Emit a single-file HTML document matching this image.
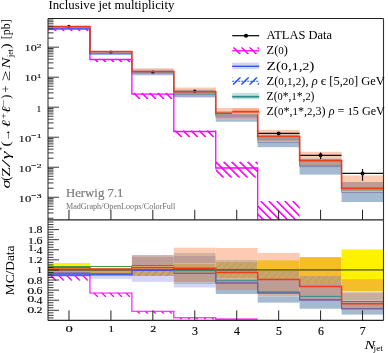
<!DOCTYPE html>
<html><head><meta charset="utf-8"><style>html,body{margin:0;padding:0;background:#fff;}svg{display:block;will-change:transform;}</style></head>
<body><svg width="388" height="353" viewBox="0 0 388 353"><rect width="388" height="353" fill="#fff"/><clipPath id="cu"><rect x="48.0" y="18.5" width="335.5" height="201.3"/></clipPath><clipPath id="cr"><rect x="48.0" y="219.8" width="335.5" height="100.59999999999997"/></clipPath><g clip-path="url(#cu)"><rect x="131.88" y="68.20" width="41.94" height="1.30" fill="#e6cfc4"/><rect x="131.88" y="69.50" width="41.94" height="1.00" fill="#bd9d96"/><rect x="131.88" y="70.50" width="41.94" height="3.10" fill="#a293b0"/><rect x="131.88" y="73.60" width="41.94" height="1.90" fill="#d4d4f4"/><rect x="173.81" y="87.50" width="41.94" height="2.00" fill="#fccbb2"/><rect x="173.81" y="89.50" width="41.94" height="1.50" fill="#bd9d96"/><rect x="173.81" y="91.00" width="41.94" height="3.00" fill="#8fa0a0"/><rect x="173.81" y="94.00" width="41.94" height="1.60" fill="#b0a0b8"/><rect x="173.81" y="95.60" width="41.94" height="1.90" fill="#c0c8ec"/><rect x="215.75" y="108.00" width="41.94" height="3.20" fill="#fccbb2"/><rect x="215.75" y="111.20" width="41.94" height="4.80" fill="#bd9d96"/><rect x="215.75" y="116.00" width="41.94" height="3.80" fill="#c9abab"/><rect x="215.75" y="119.80" width="41.94" height="1.90" fill="#a3bad0"/><rect x="257.69" y="129.80" width="41.94" height="4.70" fill="#fccbb2"/><rect x="257.69" y="134.50" width="41.94" height="7.00" fill="#bd9d96"/><rect x="257.69" y="141.50" width="41.94" height="5.70" fill="#a3bad0"/><rect x="299.62" y="151.80" width="41.94" height="6.70" fill="#fccbb2"/><rect x="299.62" y="158.50" width="41.94" height="7.50" fill="#bd9d96"/><rect x="299.62" y="166.00" width="41.94" height="8.60" fill="#a3bad0"/><rect x="341.56" y="175.40" width="41.94" height="6.60" fill="#fccbb2"/><rect x="341.56" y="182.00" width="41.94" height="9.50" fill="#bd9d96"/><rect x="341.56" y="191.50" width="41.94" height="10.50" fill="#a3bad0"/><g><clipPath id="h27"><rect x="48.00" y="28.80" width="41.94" height="2.20"/></clipPath><path d="M37.80,28.80 L40.01,31.00 M45.80,28.80 L48.01,31.00 M53.80,28.80 L56.01,31.00 M61.80,28.80 L64.01,31.00 M69.80,28.80 L72.01,31.00 M77.80,28.80 L80.01,31.00 M85.80,28.80 L88.01,31.00 M93.80,28.80 L96.01,31.00 " stroke="#ff00ff" stroke-width="1.6" stroke-opacity="1.0" clip-path="url(#h27)"/></g><g><clipPath id="h29"><rect x="89.94" y="59.00" width="41.94" height="3.20"/></clipPath><path d="M78.74,59.00 L81.95,62.20 M86.74,59.00 L89.95,62.20 M94.74,59.00 L97.95,62.20 M102.74,59.00 L105.95,62.20 M110.74,59.00 L113.95,62.20 M118.74,59.00 L121.95,62.20 M126.74,59.00 L129.95,62.20 M134.74,59.00 L137.95,62.20 " stroke="#ff00ff" stroke-width="1.6" stroke-opacity="1.0" clip-path="url(#h29)"/></g><g><clipPath id="h31"><rect x="131.88" y="92.80" width="41.94" height="6.20"/></clipPath><path d="M117.67,92.80 L123.89,99.00 M125.67,92.80 L131.88,99.00 M133.68,92.80 L139.88,99.00 M141.68,92.80 L147.88,99.00 M149.68,92.80 L155.88,99.00 M157.68,92.80 L163.88,99.00 M165.68,92.80 L171.88,99.00 M173.68,92.80 L179.88,99.00 M181.68,92.80 L187.88,99.00 " stroke="#ff00ff" stroke-width="1.6" stroke-opacity="1.0" clip-path="url(#h31)"/></g><g><clipPath id="h33"><rect x="173.81" y="130.40" width="41.94" height="6.80"/></clipPath><path d="M159.01,130.40 L165.82,137.20 M167.01,130.40 L173.82,137.20 M175.01,130.40 L181.82,137.20 M183.01,130.40 L189.82,137.20 M191.01,130.40 L197.82,137.20 M199.01,130.40 L205.82,137.20 M207.01,130.40 L213.82,137.20 M215.01,130.40 L221.82,137.20 M223.01,130.40 L229.82,137.20 " stroke="#ff00ff" stroke-width="1.6" stroke-opacity="1.0" clip-path="url(#h33)"/></g><g><clipPath id="h35"><rect x="215.75" y="161.60" width="41.94" height="16.20"/></clipPath><path d="M191.55,161.60 L207.76,177.80 M199.55,161.60 L215.76,177.80 M207.55,161.60 L223.76,177.80 M215.55,161.60 L231.76,177.80 M223.55,161.60 L239.76,177.80 M231.55,161.60 L247.76,177.80 M239.55,161.60 L255.76,177.80 M247.55,161.60 L263.76,177.80 M255.55,161.60 L271.76,177.80 M263.55,161.60 L279.76,177.80 " stroke="#ff00ff" stroke-width="1.6" stroke-opacity="1.0" clip-path="url(#h35)"/></g><g><clipPath id="h37"><rect x="257.69" y="201.00" width="41.94" height="21.00"/></clipPath><path d="M228.69,201.00 L249.70,222.00 M236.69,201.00 L257.70,222.00 M244.69,201.00 L265.70,222.00 M252.69,201.00 L273.70,222.00 M260.69,201.00 L281.70,222.00 M268.69,201.00 L289.70,222.00 M276.69,201.00 L297.70,222.00 M284.69,201.00 L305.70,222.00 M292.69,201.00 L313.70,222.00 M300.69,201.00 L321.70,222.00 " stroke="#ff00ff" stroke-width="1.6" stroke-opacity="1.0" clip-path="url(#h37)"/></g><circle cx="68.97" cy="26.40" r="1.6" fill="#000"/><circle cx="110.91" cy="52.20" r="1.6" fill="#000"/><circle cx="152.84" cy="72.20" r="1.6" fill="#000"/><circle cx="194.78" cy="91.20" r="1.6" fill="#000"/><circle cx="236.72" cy="112.40" r="1.6" fill="#000"/><line x1="257.69" y1="133.40" x2="299.62" y2="133.40" stroke="#111" stroke-width="1.3"/><circle cx="278.66" cy="133.40" r="2.0" fill="#000"/><line x1="299.62" y1="155.30" x2="341.56" y2="155.30" stroke="#111" stroke-width="1.3"/><circle cx="320.59" cy="155.30" r="2.0" fill="#000"/><line x1="320.59" y1="152.40" x2="320.59" y2="158.90" stroke="#111" stroke-width="1.2"/><line x1="341.56" y1="173.40" x2="383.50" y2="173.40" stroke="#111" stroke-width="1.3"/><circle cx="362.53" cy="173.40" r="2.0" fill="#000"/><line x1="362.53" y1="169.10" x2="362.53" y2="180.80" stroke="#111" stroke-width="1.2"/><path d="M48.00,29.20 L89.94,29.20 L89.94,59.50 L131.88,59.50 L131.88,94.10 L173.81,94.10 L173.81,131.50 L215.75,131.50 L215.75,168.00 L257.69,168.00 L257.69,240.00 L299.62,240.00 L299.62,240.00 L341.56,240.00 L341.56,240.00 L383.50,240.00" fill="none" stroke="#ff00ff" stroke-width="1.3"/><path d="M48.00,28.10 L89.94,28.10 L89.94,53.80 L131.88,53.80" fill="none" stroke="#2f55ee" stroke-width="1.3"/><g opacity="0.75"><path d="M131.88,74.00 L173.81,74.00 L173.81,96.00 L215.75,96.00 L215.75,116.80 L257.69,116.80 L257.69,142.30 L299.62,142.30 L299.62,166.60 L341.56,166.60 L341.56,192.40 L383.50,192.40" fill="none" stroke="#7a5fa0" stroke-width="0.8"/></g><g opacity="0.6"><path d="M48.00,27.00 L89.94,27.00 L89.94,52.50 L131.88,52.50 L131.88,73.00 L173.81,73.00 L173.81,94.50 L215.75,94.50 L215.75,115.00 L257.69,115.00 L257.69,139.00 L299.62,139.00 L299.62,165.30 L341.56,165.30 L341.56,190.00 L383.50,190.00" fill="none" stroke="#2a8c8a" stroke-width="0.8"/></g><path d="M48.00,26.60 L89.94,26.60 L89.94,51.60 L131.88,51.60 L131.88,71.50 L173.81,71.50 L173.81,91.80 L215.75,91.80 L215.75,113.20 L257.69,113.20 L257.69,136.50 L299.62,136.50 L299.62,160.60 L341.56,160.60 L341.56,188.20 L383.50,188.20" fill="none" stroke="#ee3b1c" stroke-width="1.6"/></g><g clip-path="url(#cr)"><rect x="48.00" y="263.00" width="41.94" height="4.00" fill="#fff200"/><rect x="48.00" y="267.00" width="41.94" height="2.50" fill="#e0a030"/><rect x="48.00" y="269.50" width="41.94" height="3.00" fill="#c9a566"/><rect x="48.00" y="272.50" width="41.94" height="2.00" fill="#6b7fe0"/><rect x="48.00" y="274.50" width="41.94" height="2.50" fill="#d4d4f4"/><rect x="89.94" y="268.50" width="41.94" height="5.00" fill="#c9a566"/><rect x="89.94" y="273.50" width="41.94" height="1.50" fill="#6b7fe0"/><rect x="89.94" y="275.00" width="41.94" height="3.80" fill="#d4d4f4"/><rect x="131.88" y="255.00" width="41.94" height="1.30" fill="#c8bcc4"/><rect x="131.88" y="256.30" width="41.94" height="8.90" fill="#bd9d96"/><rect x="131.88" y="265.20" width="41.94" height="1.10" fill="#d8b850"/><rect x="131.88" y="266.30" width="41.94" height="9.70" fill="#c9a566"/><rect x="131.88" y="276.00" width="41.94" height="5.80" fill="#d4d4f4"/><rect x="173.81" y="247.70" width="41.94" height="5.00" fill="#fccbb2"/><rect x="173.81" y="252.70" width="41.94" height="3.30" fill="#d6b49c"/><rect x="173.81" y="256.00" width="41.94" height="7.50" fill="#bd9d96"/><rect x="173.81" y="263.50" width="41.94" height="10.30" fill="#c9a566"/><rect x="173.81" y="273.80" width="41.94" height="8.70" fill="#bd9d96"/><rect x="173.81" y="282.50" width="41.94" height="2.00" fill="#a3bad0"/><rect x="173.81" y="284.50" width="41.94" height="3.00" fill="#d4d4f4"/><rect x="215.75" y="248.00" width="41.94" height="11.60" fill="#fccbb2"/><rect x="215.75" y="259.60" width="41.94" height="2.40" fill="#d6b49c"/><rect x="215.75" y="262.00" width="41.94" height="16.50" fill="#c9a566"/><rect x="215.75" y="278.50" width="41.94" height="11.50" fill="#bd9d96"/><rect x="215.75" y="290.00" width="41.94" height="4.00" fill="#a3bad0"/><rect x="257.69" y="252.90" width="41.94" height="7.30" fill="#fccbb2"/><rect x="257.69" y="260.20" width="41.94" height="10.80" fill="#f6bd2a"/><rect x="257.69" y="271.00" width="41.94" height="8.00" fill="#c9a566"/><rect x="257.69" y="279.00" width="41.94" height="15.00" fill="#bd9d96"/><rect x="257.69" y="294.00" width="41.94" height="2.50" fill="#d6b49c"/><rect x="257.69" y="296.50" width="41.94" height="6.10" fill="#a3bad0"/><rect x="299.62" y="257.10" width="41.94" height="18.90" fill="#f6bd2a"/><rect x="299.62" y="276.00" width="41.94" height="7.00" fill="#c9a566"/><rect x="299.62" y="283.00" width="41.94" height="17.00" fill="#bd9d96"/><rect x="299.62" y="300.00" width="41.94" height="8.70" fill="#a3bad0"/><rect x="341.56" y="249.40" width="41.94" height="29.70" fill="#fff200"/><rect x="341.56" y="279.10" width="41.94" height="12.10" fill="#f6bd2a"/><rect x="341.56" y="291.20" width="41.94" height="1.20" fill="#f4d8c0"/><rect x="341.56" y="292.40" width="41.94" height="8.10" fill="#c9ae9e"/><rect x="341.56" y="300.50" width="41.94" height="8.50" fill="#bd9d96"/><rect x="341.56" y="309.00" width="41.94" height="5.60" fill="#a3bad0"/><g><clipPath id="h104"><rect x="131.88" y="268.50" width="41.94" height="7.50"/></clipPath><path d="M117.38,276.00 L124.89,268.50 M124.38,276.00 L131.88,268.50 M131.38,276.00 L138.88,268.50 M138.38,276.00 L145.88,268.50 M145.38,276.00 L152.88,268.50 M152.38,276.00 L159.88,268.50 M159.38,276.00 L166.88,268.50 M166.38,276.00 L173.88,268.50 M173.38,276.00 L180.88,268.50 M180.38,276.00 L187.88,268.50 " stroke="#7a5fa0" stroke-width="0.9" stroke-opacity="0.55" clip-path="url(#h104)"/></g><g><clipPath id="h106"><rect x="173.81" y="268.00" width="41.94" height="5.80"/></clipPath><path d="M161.01,273.80 L166.82,268.00 M168.01,273.80 L173.82,268.00 M175.01,273.80 L180.82,268.00 M182.01,273.80 L187.82,268.00 M189.01,273.80 L194.82,268.00 M196.01,273.80 L201.82,268.00 M203.01,273.80 L208.82,268.00 M210.01,273.80 L215.82,268.00 M217.01,273.80 L222.82,268.00 " stroke="#7a5fa0" stroke-width="0.9" stroke-opacity="0.22" clip-path="url(#h106)"/></g><g><clipPath id="h108"><rect x="215.75" y="262.00" width="41.94" height="16.50"/></clipPath><path d="M192.25,278.50 L208.76,262.00 M199.25,278.50 L215.76,262.00 M206.25,278.50 L222.76,262.00 M213.25,278.50 L229.76,262.00 M220.25,278.50 L236.76,262.00 M227.25,278.50 L243.76,262.00 M234.25,278.50 L250.76,262.00 M241.25,278.50 L257.76,262.00 M248.25,278.50 L264.76,262.00 M255.25,278.50 L271.76,262.00 M262.25,278.50 L278.76,262.00 " stroke="#7a5fa0" stroke-width="0.9" stroke-opacity="0.22" clip-path="url(#h108)"/></g><g><clipPath id="h110"><rect x="257.69" y="271.00" width="41.94" height="7.80"/></clipPath><path d="M242.89,278.80 L250.70,271.00 M249.89,278.80 L257.70,271.00 M256.89,278.80 L264.70,271.00 M263.89,278.80 L271.70,271.00 M270.89,278.80 L278.70,271.00 M277.89,278.80 L285.70,271.00 M284.89,278.80 L292.70,271.00 M291.89,278.80 L299.70,271.00 M298.89,278.80 L306.70,271.00 M305.89,278.80 L313.70,271.00 " stroke="#7a5fa0" stroke-width="0.9" stroke-opacity="0.22" clip-path="url(#h110)"/></g><g><clipPath id="h112"><rect x="299.62" y="276.00" width="41.94" height="7.00"/></clipPath><path d="M285.62,283.00 L292.63,276.00 M292.62,283.00 L299.63,276.00 M299.62,283.00 L306.63,276.00 M306.62,283.00 L313.63,276.00 M313.62,283.00 L320.63,276.00 M320.62,283.00 L327.63,276.00 M327.62,283.00 L334.63,276.00 M334.62,283.00 L341.63,276.00 M341.62,283.00 L348.63,276.00 " stroke="#7a5fa0" stroke-width="0.9" stroke-opacity="0.22" clip-path="url(#h112)"/></g><g><clipPath id="h114"><rect x="48.00" y="275.50" width="41.94" height="5.30"/></clipPath><path d="M34.70,275.50 L40.01,280.80 M42.70,275.50 L48.01,280.80 M50.70,275.50 L56.01,280.80 M58.70,275.50 L64.01,280.80 M66.70,275.50 L72.01,280.80 M74.70,275.50 L80.01,280.80 M82.70,275.50 L88.01,280.80 M90.70,275.50 L96.01,280.80 " stroke="#ff00ff" stroke-width="1.3" stroke-opacity="1.0" clip-path="url(#h114)"/></g><g><clipPath id="h116"><rect x="89.94" y="293.00" width="41.94" height="4.00"/></clipPath><path d="M77.94,293.00 L81.95,297.00 M85.94,293.00 L89.95,297.00 M93.94,293.00 L97.95,297.00 M101.94,293.00 L105.95,297.00 M109.94,293.00 L113.95,297.00 M117.94,293.00 L121.95,297.00 M125.94,293.00 L129.95,297.00 M133.94,293.00 L137.95,297.00 " stroke="#ff00ff" stroke-width="1.3" stroke-opacity="1.0" clip-path="url(#h116)"/></g><g><clipPath id="h118"><rect x="131.88" y="311.30" width="41.94" height="2.50"/></clipPath><path d="M121.38,311.30 L123.89,313.80 M129.38,311.30 L131.88,313.80 M137.38,311.30 L139.88,313.80 M145.38,311.30 L147.88,313.80 M153.38,311.30 L155.88,313.80 M161.38,311.30 L163.88,313.80 M169.38,311.30 L171.88,313.80 M177.38,311.30 L179.88,313.80 " stroke="#ff00ff" stroke-width="1.3" stroke-opacity="1.0" clip-path="url(#h118)"/></g><g><clipPath id="h120"><rect x="173.81" y="317.70" width="41.94" height="1.80"/></clipPath><path d="M164.01,317.70 L165.82,319.50 M172.01,317.70 L173.82,319.50 M180.01,317.70 L181.82,319.50 M188.01,317.70 L189.82,319.50 M196.01,317.70 L197.82,319.50 M204.01,317.70 L205.82,319.50 M212.01,317.70 L213.82,319.50 M220.01,317.70 L221.82,319.50 " stroke="#ff00ff" stroke-width="1.3" stroke-opacity="1.0" clip-path="url(#h120)"/></g><path d="M48.00,275.50 L89.94,275.50 L89.94,293.00 L131.88,293.00 L131.88,311.30 L173.81,311.30 L173.81,317.70 L215.75,317.70 L215.75,319.10 L257.69,319.10" fill="none" stroke="#ff00ff" stroke-width="1.1"/><line x1="48.00" y1="269.95" x2="383.50" y2="269.95" stroke="#222" stroke-width="1.0"/><path d="M48.00,274.20 L89.94,274.20 L89.94,274.80 L131.88,274.80 L131.88,270.30 L173.81,270.30" fill="none" stroke="#2f55ee" stroke-width="1.3"/><path d="M173.81,273.40 L215.75,273.40 L215.75,283.00 L257.69,283.00 L257.69,292.80 L299.62,292.80 L299.62,299.90 L341.56,299.90 L341.56,308.80 L383.50,308.80" fill="none" stroke="#6a58b0" stroke-width="1.1"/><path d="M48.00,272.80 L89.94,272.80 L89.94,273.50 L131.88,273.50 L131.88,269.90 L173.81,269.90 L173.81,273.40 L215.75,273.40 L215.75,283.00 L257.69,283.00 L257.69,293.20 L299.62,293.20 L299.62,299.90 L341.56,299.90 L341.56,308.80 L383.50,308.80" fill="none" stroke="#7a5fa0" stroke-width="0.9"/><path d="M48.00,266.50 L89.94,266.50 L89.94,266.50 L131.88,266.50 L131.88,265.50 L173.81,265.50" fill="none" stroke="#3f9a40" stroke-width="1.0"/><path d="M173.81,270.80 L215.75,270.80 L215.75,280.70 L257.69,280.70 L257.69,291.90 L299.62,291.90 L299.62,296.40 L341.56,296.40 L341.56,301.50 L383.50,301.50" fill="none" stroke="#2a8c8a" stroke-width="0.9"/><path d="M48.00,267.70 L89.94,267.70 L89.94,268.90 L131.88,268.90 L131.88,267.50 L173.81,267.50 L173.81,268.20 L215.75,268.20 L215.75,272.40 L257.69,272.40 L257.69,279.40 L299.62,279.40 L299.62,286.50 L341.56,286.50 L341.56,303.70 L383.50,303.70" fill="none" stroke="#ee3b1c" stroke-width="1.5"/></g><line x1="48.00" y1="18.50" x2="383.50" y2="18.50" stroke="#222" stroke-width="1.15"/><line x1="48.00" y1="219.80" x2="383.50" y2="219.80" stroke="#222" stroke-width="1.15"/><line x1="48.00" y1="320.40" x2="383.50" y2="320.40" stroke="#222" stroke-width="1.15"/><line x1="48.00" y1="18.50" x2="48.00" y2="320.40" stroke="#333" stroke-width="1.1"/><line x1="383.50" y1="18.50" x2="383.50" y2="320.40" stroke="#333" stroke-width="1.1"/><line x1="68.97" y1="219.80" x2="68.97" y2="209.80" stroke="#222" stroke-width="1.0"/><line x1="68.97" y1="320.40" x2="68.97" y2="310.40" stroke="#222" stroke-width="1.0"/><line x1="110.91" y1="219.80" x2="110.91" y2="209.80" stroke="#222" stroke-width="1.0"/><line x1="110.91" y1="320.40" x2="110.91" y2="310.40" stroke="#222" stroke-width="1.0"/><line x1="152.84" y1="219.80" x2="152.84" y2="209.80" stroke="#222" stroke-width="1.0"/><line x1="152.84" y1="320.40" x2="152.84" y2="310.40" stroke="#222" stroke-width="1.0"/><line x1="194.78" y1="219.80" x2="194.78" y2="209.80" stroke="#222" stroke-width="1.0"/><line x1="194.78" y1="320.40" x2="194.78" y2="310.40" stroke="#222" stroke-width="1.0"/><line x1="236.72" y1="219.80" x2="236.72" y2="209.80" stroke="#222" stroke-width="1.0"/><line x1="236.72" y1="320.40" x2="236.72" y2="310.40" stroke="#222" stroke-width="1.0"/><line x1="278.66" y1="219.80" x2="278.66" y2="209.80" stroke="#222" stroke-width="1.0"/><line x1="278.66" y1="320.40" x2="278.66" y2="310.40" stroke="#222" stroke-width="1.0"/><line x1="320.59" y1="219.80" x2="320.59" y2="209.80" stroke="#222" stroke-width="1.0"/><line x1="320.59" y1="320.40" x2="320.59" y2="310.40" stroke="#222" stroke-width="1.0"/><line x1="362.53" y1="219.80" x2="362.53" y2="209.80" stroke="#222" stroke-width="1.0"/><line x1="362.53" y1="320.40" x2="362.53" y2="310.40" stroke="#222" stroke-width="1.0"/><line x1="48.00" y1="218.24" x2="53.50" y2="218.24" stroke="#222" stroke-width="0.9"/><line x1="48.00" y1="212.96" x2="53.50" y2="212.96" stroke="#222" stroke-width="0.9"/><line x1="48.00" y1="209.21" x2="53.50" y2="209.21" stroke="#222" stroke-width="0.9"/><line x1="48.00" y1="206.30" x2="53.50" y2="206.30" stroke="#222" stroke-width="0.9"/><line x1="48.00" y1="203.92" x2="53.50" y2="203.92" stroke="#222" stroke-width="0.9"/><line x1="48.00" y1="201.91" x2="53.50" y2="201.91" stroke="#222" stroke-width="0.9"/><line x1="48.00" y1="200.17" x2="53.50" y2="200.17" stroke="#222" stroke-width="0.9"/><line x1="48.00" y1="198.63" x2="53.50" y2="198.63" stroke="#222" stroke-width="0.9"/><line x1="48.00" y1="197.26" x2="59.00" y2="197.26" stroke="#222" stroke-width="0.9"/><line x1="48.00" y1="188.22" x2="53.50" y2="188.22" stroke="#222" stroke-width="0.9"/><line x1="48.00" y1="182.94" x2="53.50" y2="182.94" stroke="#222" stroke-width="0.9"/><line x1="48.00" y1="179.19" x2="53.50" y2="179.19" stroke="#222" stroke-width="0.9"/><line x1="48.00" y1="176.28" x2="53.50" y2="176.28" stroke="#222" stroke-width="0.9"/><line x1="48.00" y1="173.90" x2="53.50" y2="173.90" stroke="#222" stroke-width="0.9"/><line x1="48.00" y1="171.89" x2="53.50" y2="171.89" stroke="#222" stroke-width="0.9"/><line x1="48.00" y1="170.15" x2="53.50" y2="170.15" stroke="#222" stroke-width="0.9"/><line x1="48.00" y1="168.61" x2="53.50" y2="168.61" stroke="#222" stroke-width="0.9"/><line x1="48.00" y1="167.24" x2="59.00" y2="167.24" stroke="#222" stroke-width="0.9"/><line x1="48.00" y1="158.20" x2="53.50" y2="158.20" stroke="#222" stroke-width="0.9"/><line x1="48.00" y1="152.92" x2="53.50" y2="152.92" stroke="#222" stroke-width="0.9"/><line x1="48.00" y1="149.17" x2="53.50" y2="149.17" stroke="#222" stroke-width="0.9"/><line x1="48.00" y1="146.26" x2="53.50" y2="146.26" stroke="#222" stroke-width="0.9"/><line x1="48.00" y1="143.88" x2="53.50" y2="143.88" stroke="#222" stroke-width="0.9"/><line x1="48.00" y1="141.87" x2="53.50" y2="141.87" stroke="#222" stroke-width="0.9"/><line x1="48.00" y1="140.13" x2="53.50" y2="140.13" stroke="#222" stroke-width="0.9"/><line x1="48.00" y1="138.59" x2="53.50" y2="138.59" stroke="#222" stroke-width="0.9"/><line x1="48.00" y1="137.22" x2="59.00" y2="137.22" stroke="#222" stroke-width="0.9"/><line x1="48.00" y1="128.18" x2="53.50" y2="128.18" stroke="#222" stroke-width="0.9"/><line x1="48.00" y1="122.90" x2="53.50" y2="122.90" stroke="#222" stroke-width="0.9"/><line x1="48.00" y1="119.15" x2="53.50" y2="119.15" stroke="#222" stroke-width="0.9"/><line x1="48.00" y1="116.24" x2="53.50" y2="116.24" stroke="#222" stroke-width="0.9"/><line x1="48.00" y1="113.86" x2="53.50" y2="113.86" stroke="#222" stroke-width="0.9"/><line x1="48.00" y1="111.85" x2="53.50" y2="111.85" stroke="#222" stroke-width="0.9"/><line x1="48.00" y1="110.11" x2="53.50" y2="110.11" stroke="#222" stroke-width="0.9"/><line x1="48.00" y1="108.57" x2="53.50" y2="108.57" stroke="#222" stroke-width="0.9"/><line x1="48.00" y1="107.20" x2="59.00" y2="107.20" stroke="#222" stroke-width="0.9"/><line x1="48.00" y1="98.16" x2="53.50" y2="98.16" stroke="#222" stroke-width="0.9"/><line x1="48.00" y1="92.88" x2="53.50" y2="92.88" stroke="#222" stroke-width="0.9"/><line x1="48.00" y1="89.13" x2="53.50" y2="89.13" stroke="#222" stroke-width="0.9"/><line x1="48.00" y1="86.22" x2="53.50" y2="86.22" stroke="#222" stroke-width="0.9"/><line x1="48.00" y1="83.84" x2="53.50" y2="83.84" stroke="#222" stroke-width="0.9"/><line x1="48.00" y1="81.83" x2="53.50" y2="81.83" stroke="#222" stroke-width="0.9"/><line x1="48.00" y1="80.09" x2="53.50" y2="80.09" stroke="#222" stroke-width="0.9"/><line x1="48.00" y1="78.55" x2="53.50" y2="78.55" stroke="#222" stroke-width="0.9"/><line x1="48.00" y1="77.18" x2="59.00" y2="77.18" stroke="#222" stroke-width="0.9"/><line x1="48.00" y1="68.14" x2="53.50" y2="68.14" stroke="#222" stroke-width="0.9"/><line x1="48.00" y1="62.86" x2="53.50" y2="62.86" stroke="#222" stroke-width="0.9"/><line x1="48.00" y1="59.11" x2="53.50" y2="59.11" stroke="#222" stroke-width="0.9"/><line x1="48.00" y1="56.20" x2="53.50" y2="56.20" stroke="#222" stroke-width="0.9"/><line x1="48.00" y1="53.82" x2="53.50" y2="53.82" stroke="#222" stroke-width="0.9"/><line x1="48.00" y1="51.81" x2="53.50" y2="51.81" stroke="#222" stroke-width="0.9"/><line x1="48.00" y1="50.07" x2="53.50" y2="50.07" stroke="#222" stroke-width="0.9"/><line x1="48.00" y1="48.53" x2="53.50" y2="48.53" stroke="#222" stroke-width="0.9"/><line x1="48.00" y1="47.16" x2="59.00" y2="47.16" stroke="#222" stroke-width="0.9"/><line x1="48.00" y1="38.12" x2="53.50" y2="38.12" stroke="#222" stroke-width="0.9"/><line x1="48.00" y1="32.84" x2="53.50" y2="32.84" stroke="#222" stroke-width="0.9"/><line x1="48.00" y1="29.09" x2="53.50" y2="29.09" stroke="#222" stroke-width="0.9"/><line x1="48.00" y1="26.18" x2="53.50" y2="26.18" stroke="#222" stroke-width="0.9"/><line x1="48.00" y1="23.80" x2="53.50" y2="23.80" stroke="#222" stroke-width="0.9"/><line x1="48.00" y1="21.79" x2="53.50" y2="21.79" stroke="#222" stroke-width="0.9"/><line x1="48.00" y1="20.05" x2="53.50" y2="20.05" stroke="#222" stroke-width="0.9"/><line x1="48.00" y1="18.51" x2="53.50" y2="18.51" stroke="#222" stroke-width="0.9"/><line x1="48.00" y1="317.88" x2="53.50" y2="317.88" stroke="#222" stroke-width="0.9"/><line x1="48.00" y1="315.35" x2="53.50" y2="315.35" stroke="#222" stroke-width="0.9"/><line x1="48.00" y1="312.83" x2="53.50" y2="312.83" stroke="#222" stroke-width="0.9"/><line x1="48.00" y1="310.31" x2="59.00" y2="310.31" stroke="#222" stroke-width="0.9"/><line x1="48.00" y1="307.79" x2="53.50" y2="307.79" stroke="#222" stroke-width="0.9"/><line x1="48.00" y1="305.26" x2="53.50" y2="305.26" stroke="#222" stroke-width="0.9"/><line x1="48.00" y1="302.74" x2="53.50" y2="302.74" stroke="#222" stroke-width="0.9"/><line x1="48.00" y1="300.22" x2="59.00" y2="300.22" stroke="#222" stroke-width="0.9"/><line x1="48.00" y1="297.70" x2="53.50" y2="297.70" stroke="#222" stroke-width="0.9"/><line x1="48.00" y1="295.17" x2="53.50" y2="295.17" stroke="#222" stroke-width="0.9"/><line x1="48.00" y1="292.65" x2="53.50" y2="292.65" stroke="#222" stroke-width="0.9"/><line x1="48.00" y1="290.13" x2="59.00" y2="290.13" stroke="#222" stroke-width="0.9"/><line x1="48.00" y1="287.61" x2="53.50" y2="287.61" stroke="#222" stroke-width="0.9"/><line x1="48.00" y1="285.08" x2="53.50" y2="285.08" stroke="#222" stroke-width="0.9"/><line x1="48.00" y1="282.56" x2="53.50" y2="282.56" stroke="#222" stroke-width="0.9"/><line x1="48.00" y1="280.04" x2="59.00" y2="280.04" stroke="#222" stroke-width="0.9"/><line x1="48.00" y1="277.52" x2="53.50" y2="277.52" stroke="#222" stroke-width="0.9"/><line x1="48.00" y1="275.00" x2="53.50" y2="275.00" stroke="#222" stroke-width="0.9"/><line x1="48.00" y1="272.47" x2="53.50" y2="272.47" stroke="#222" stroke-width="0.9"/><line x1="48.00" y1="269.95" x2="59.00" y2="269.95" stroke="#222" stroke-width="0.9"/><line x1="48.00" y1="267.43" x2="53.50" y2="267.43" stroke="#222" stroke-width="0.9"/><line x1="48.00" y1="264.90" x2="53.50" y2="264.90" stroke="#222" stroke-width="0.9"/><line x1="48.00" y1="262.38" x2="53.50" y2="262.38" stroke="#222" stroke-width="0.9"/><line x1="48.00" y1="259.86" x2="59.00" y2="259.86" stroke="#222" stroke-width="0.9"/><line x1="48.00" y1="257.34" x2="53.50" y2="257.34" stroke="#222" stroke-width="0.9"/><line x1="48.00" y1="254.81" x2="53.50" y2="254.81" stroke="#222" stroke-width="0.9"/><line x1="48.00" y1="252.29" x2="53.50" y2="252.29" stroke="#222" stroke-width="0.9"/><line x1="48.00" y1="249.77" x2="59.00" y2="249.77" stroke="#222" stroke-width="0.9"/><line x1="48.00" y1="247.25" x2="53.50" y2="247.25" stroke="#222" stroke-width="0.9"/><line x1="48.00" y1="244.72" x2="53.50" y2="244.72" stroke="#222" stroke-width="0.9"/><line x1="48.00" y1="242.20" x2="53.50" y2="242.20" stroke="#222" stroke-width="0.9"/><line x1="48.00" y1="239.68" x2="59.00" y2="239.68" stroke="#222" stroke-width="0.9"/><line x1="48.00" y1="237.16" x2="53.50" y2="237.16" stroke="#222" stroke-width="0.9"/><line x1="48.00" y1="234.63" x2="53.50" y2="234.63" stroke="#222" stroke-width="0.9"/><line x1="48.00" y1="232.11" x2="53.50" y2="232.11" stroke="#222" stroke-width="0.9"/><line x1="48.00" y1="229.59" x2="59.00" y2="229.59" stroke="#222" stroke-width="0.9"/><line x1="48.00" y1="227.07" x2="53.50" y2="227.07" stroke="#222" stroke-width="0.9"/><line x1="48.00" y1="224.54" x2="53.50" y2="224.54" stroke="#222" stroke-width="0.9"/><line x1="48.00" y1="222.02" x2="53.50" y2="222.02" stroke="#222" stroke-width="0.9"/><text x="48.40" y="8.50" font-family='"Liberation Serif", serif' font-size="11.5" text-anchor="start" fill="#000" textLength="126.0" lengthAdjust="spacingAndGlyphs">Inclusive jet multiplicity</text><text transform="translate(41.6,51.46) scale(1,0.8)" font-family='"Liberation Serif", serif' font-size="11" text-anchor="end" textLength="17.0" lengthAdjust="spacingAndGlyphs" stroke="#000" stroke-width="0.12">10<tspan font-size="8.5" dy="-4.6">2</tspan></text><text transform="translate(41.6,81.48) scale(1,0.8)" font-family='"Liberation Serif", serif' font-size="11" text-anchor="end" textLength="17.0" lengthAdjust="spacingAndGlyphs" stroke="#000" stroke-width="0.12">10<tspan font-size="8.5" dy="-4.6">1</tspan></text><text transform="translate(41.3,111.50) scale(1,0.8)" font-family='"Liberation Serif", serif' font-size="11" text-anchor="end" textLength="4.8" lengthAdjust="spacingAndGlyphs" stroke="#000" stroke-width="0.12">1</text><text transform="translate(41.6,141.52) scale(1,0.8)" font-family='"Liberation Serif", serif' font-size="11" text-anchor="end" textLength="23.0" lengthAdjust="spacingAndGlyphs" stroke="#000" stroke-width="0.12">10<tspan font-size="8.5" dy="-4.6">−1</tspan></text><text transform="translate(41.6,171.54) scale(1,0.8)" font-family='"Liberation Serif", serif' font-size="11" text-anchor="end" textLength="23.0" lengthAdjust="spacingAndGlyphs" stroke="#000" stroke-width="0.12">10<tspan font-size="8.5" dy="-4.6">−2</tspan></text><text transform="translate(41.6,201.56) scale(1,0.8)" font-family='"Liberation Serif", serif' font-size="11" text-anchor="end" textLength="23.0" lengthAdjust="spacingAndGlyphs" stroke="#000" stroke-width="0.12">10<tspan font-size="8.5" dy="-4.6">−3</tspan></text><text transform="translate(30.90,312.96) scale(1.25,0.70)" font-family='"Liberation Serif", serif' font-size="11.3" text-anchor="middle" stroke="#000" stroke-width="0.15">0</text><text transform="translate(35.14,312.96) scale(1.05,1)" font-family='"Liberation Serif", serif' font-size="11.3" text-anchor="middle" stroke="#000" stroke-width="0.12">.</text><text transform="translate(39.38,312.96) scale(1.05,0.70)" font-family='"Liberation Serif", serif' font-size="11.3" text-anchor="middle" stroke="#000" stroke-width="0.15">2</text><text transform="translate(30.90,301.78) scale(1.25,0.70)" font-family='"Liberation Serif", serif' font-size="11.3" text-anchor="middle" stroke="#000" stroke-width="0.15">0</text><text transform="translate(35.14,301.78) scale(1.05,1)" font-family='"Liberation Serif", serif' font-size="11.3" text-anchor="middle" stroke="#000" stroke-width="0.12">.</text><text transform="translate(39.38,304.04) scale(1.05,1)" font-family='"Liberation Serif", serif' font-size="11.3" text-anchor="middle" stroke="#000" stroke-width="0.12">4</text><text transform="translate(30.90,293.95) scale(1.25,0.70)" font-family='"Liberation Serif", serif' font-size="11.3" text-anchor="middle" stroke="#000" stroke-width="0.15">0</text><text transform="translate(35.14,293.95) scale(1.05,1)" font-family='"Liberation Serif", serif' font-size="11.3" text-anchor="middle" stroke="#000" stroke-width="0.12">.</text><text transform="translate(39.38,293.95) scale(1.05,1)" font-family='"Liberation Serif", serif' font-size="11.3" text-anchor="middle" stroke="#000" stroke-width="0.12">6</text><text transform="translate(30.90,283.86) scale(1.25,0.70)" font-family='"Liberation Serif", serif' font-size="11.3" text-anchor="middle" stroke="#000" stroke-width="0.15">0</text><text transform="translate(35.14,283.86) scale(1.05,1)" font-family='"Liberation Serif", serif' font-size="11.3" text-anchor="middle" stroke="#000" stroke-width="0.12">.</text><text transform="translate(39.38,283.86) scale(1.05,1)" font-family='"Liberation Serif", serif' font-size="11.3" text-anchor="middle" stroke="#000" stroke-width="0.12">8</text><text transform="translate(39.38,272.60) scale(1.05,0.70)" font-family='"Liberation Serif", serif' font-size="11.3" text-anchor="middle" stroke="#000" stroke-width="0.15">1</text><text transform="translate(30.90,262.51) scale(1.05,0.70)" font-family='"Liberation Serif", serif' font-size="11.3" text-anchor="middle" stroke="#000" stroke-width="0.15">1</text><text transform="translate(35.14,262.51) scale(1.05,1)" font-family='"Liberation Serif", serif' font-size="11.3" text-anchor="middle" stroke="#000" stroke-width="0.12">.</text><text transform="translate(39.38,262.51) scale(1.05,0.70)" font-family='"Liberation Serif", serif' font-size="11.3" text-anchor="middle" stroke="#000" stroke-width="0.15">2</text><text transform="translate(30.90,251.33) scale(1.05,0.70)" font-family='"Liberation Serif", serif' font-size="11.3" text-anchor="middle" stroke="#000" stroke-width="0.15">1</text><text transform="translate(35.14,251.33) scale(1.05,1)" font-family='"Liberation Serif", serif' font-size="11.3" text-anchor="middle" stroke="#000" stroke-width="0.12">.</text><text transform="translate(39.38,253.59) scale(1.05,1)" font-family='"Liberation Serif", serif' font-size="11.3" text-anchor="middle" stroke="#000" stroke-width="0.12">4</text><text transform="translate(30.90,243.50) scale(1.05,0.70)" font-family='"Liberation Serif", serif' font-size="11.3" text-anchor="middle" stroke="#000" stroke-width="0.15">1</text><text transform="translate(35.14,243.50) scale(1.05,1)" font-family='"Liberation Serif", serif' font-size="11.3" text-anchor="middle" stroke="#000" stroke-width="0.12">.</text><text transform="translate(39.38,243.50) scale(1.05,1)" font-family='"Liberation Serif", serif' font-size="11.3" text-anchor="middle" stroke="#000" stroke-width="0.12">6</text><text transform="translate(30.90,233.41) scale(1.05,0.70)" font-family='"Liberation Serif", serif' font-size="11.3" text-anchor="middle" stroke="#000" stroke-width="0.15">1</text><text transform="translate(35.14,233.41) scale(1.05,1)" font-family='"Liberation Serif", serif' font-size="11.3" text-anchor="middle" stroke="#000" stroke-width="0.12">.</text><text transform="translate(39.38,233.41) scale(1.05,1)" font-family='"Liberation Serif", serif' font-size="11.3" text-anchor="middle" stroke="#000" stroke-width="0.12">8</text><text transform="translate(69.27,332.0) scale(1.3,0.74)" font-family='"Liberation Serif", serif' font-size="11.3" text-anchor="middle" stroke="#000" stroke-width="0.15">0</text><text transform="translate(111.21,332.0) scale(1.05,0.74)" font-family='"Liberation Serif", serif' font-size="11.3" text-anchor="middle" stroke="#000" stroke-width="0.15">1</text><text transform="translate(153.14,332.0) scale(1.05,0.74)" font-family='"Liberation Serif", serif' font-size="11.3" text-anchor="middle" stroke="#000" stroke-width="0.15">2</text><text transform="translate(195.08,334.6) scale(1.05,1.08)" font-family='"Liberation Serif", serif' font-size="11.3" text-anchor="middle" stroke="#000" stroke-width="0.15">3</text><text transform="translate(237.02,334.6) scale(1.05,1.08)" font-family='"Liberation Serif", serif' font-size="11.3" text-anchor="middle" stroke="#000" stroke-width="0.15">4</text><text transform="translate(278.96,334.6) scale(1.05,1.08)" font-family='"Liberation Serif", serif' font-size="11.3" text-anchor="middle" stroke="#000" stroke-width="0.15">5</text><text transform="translate(320.89,334.6) scale(1.05,1.08)" font-family='"Liberation Serif", serif' font-size="11.3" text-anchor="middle" stroke="#000" stroke-width="0.15">6</text><text transform="translate(362.83,334.6) scale(1.05,1.08)" font-family='"Liberation Serif", serif' font-size="11.3" text-anchor="middle" stroke="#000" stroke-width="0.15">7</text><text x="364.6" y="348.6" font-family='"Liberation Serif", serif' font-size="12.4" font-style="italic" textLength="10.6" lengthAdjust="spacingAndGlyphs">N</text><text x="373.6" y="350.6" font-family='"Liberation Serif", serif' font-size="8.8" textLength="9.2" lengthAdjust="spacingAndGlyphs">jet</text><text transform="translate(10.4,0) rotate(-90)" x="-188.60" y="0" font-family='"Liberation Serif", serif' font-size="12.0" textLength="9.0" lengthAdjust="spacingAndGlyphs" font-style="italic">σ</text><text transform="translate(10.4,0) rotate(-90)" x="-180.40" y="0" font-family='"Liberation Serif", serif' font-size="13.5" textLength="3.8" lengthAdjust="spacingAndGlyphs">(</text><text transform="translate(10.4,0) rotate(-90)" x="-176.80" y="0" font-family='"Liberation Serif", serif' font-size="12.0" textLength="10.0" lengthAdjust="spacingAndGlyphs">Z</text><text transform="translate(10.4,0) rotate(-90)" x="-167.60" y="0" font-family='"Liberation Serif", serif' font-size="12.0" textLength="8.4" lengthAdjust="spacingAndGlyphs">/</text><text transform="translate(10.4,0) rotate(-90)" x="-159.20" y="0" font-family='"Liberation Serif", serif' font-size="12.0" textLength="7.8" lengthAdjust="spacingAndGlyphs" font-style="italic">γ</text><text transform="translate(10.4,0) rotate(-90)" x="-150.60" y="-5" font-family='"Liberation Serif", serif' font-size="8.8" textLength="3.4" lengthAdjust="spacingAndGlyphs">*</text><text transform="translate(10.4,0) rotate(-90)" x="-146.40" y="0" font-family='"Liberation Serif", serif' font-size="13.5" textLength="5.2" lengthAdjust="spacingAndGlyphs">(</text><text transform="translate(10.4,0) rotate(-90)" x="-141.30" y="0" font-family='"Liberation Serif", serif' font-size="12.0" textLength="12.9" lengthAdjust="spacingAndGlyphs">→</text><text transform="translate(10.4,0) rotate(-90)" x="-127.50" y="0" font-family='"Liberation Serif", serif' font-size="12.0" textLength="7.3" lengthAdjust="spacingAndGlyphs" font-style="italic">ℓ</text><text transform="translate(10.4,0) rotate(-90)" x="-119.10" y="-4.8" font-family='"Liberation Serif", serif' font-size="8.4" textLength="5.9" lengthAdjust="spacingAndGlyphs">+</text><text transform="translate(10.4,0) rotate(-90)" x="-112.90" y="0" font-family='"Liberation Serif", serif' font-size="12.0" textLength="6.7" lengthAdjust="spacingAndGlyphs" font-style="italic">ℓ</text><text transform="translate(10.4,0) rotate(-90)" x="-106.40" y="-4.8" font-family='"Liberation Serif", serif' font-size="8.4" textLength="7.2" lengthAdjust="spacingAndGlyphs">−</text><text transform="translate(10.4,0) rotate(-90)" x="-98.80" y="0" font-family='"Liberation Serif", serif' font-size="13.5" textLength="4.0" lengthAdjust="spacingAndGlyphs">)</text><text transform="translate(10.4,0) rotate(-90)" x="-92.60" y="0" font-family='"Liberation Serif", serif' font-size="13.5" textLength="6.9" lengthAdjust="spacingAndGlyphs">+</text><text transform="translate(10.4,0) rotate(-90)" x="-81.30" y="0" font-family='"Liberation Serif", serif' font-size="13.5" textLength="10.6" lengthAdjust="spacingAndGlyphs">≥</text><text transform="translate(10.4,0) rotate(-90)" x="-68.80" y="0" font-family='"Liberation Serif", serif' font-size="12.0" textLength="11.3" lengthAdjust="spacingAndGlyphs" font-style="italic">N</text><text transform="translate(10.4,0) rotate(-90)" x="-57.00" y="2.4" font-family='"Liberation Serif", serif' font-size="8.8" textLength="7.7" lengthAdjust="spacingAndGlyphs">jet</text><text transform="translate(10.4,0) rotate(-90)" x="-48.80" y="0" font-family='"Liberation Serif", serif' font-size="13.5" textLength="5.4" lengthAdjust="spacingAndGlyphs">)</text><text transform="translate(10.4,0) rotate(-90)" x="-39.20" y="0" font-family='"Liberation Serif", serif' font-size="12.0" textLength="19.8" lengthAdjust="spacingAndGlyphs">[pb]</text><text transform="translate(13.5,270.4) rotate(-90)" font-family='"Liberation Serif", serif' font-size="11.6" text-anchor="middle" textLength="49.7" lengthAdjust="spacingAndGlyphs">MC/Data</text><text x="65.90" y="197.00" font-family='"Liberation Serif", serif' font-size="11.8" text-anchor="start" fill="#7c7c7c" textLength="57.6" lengthAdjust="spacingAndGlyphs" stroke="#7c7c7c" stroke-width="0.2">Herwig 7.1</text><text x="65.90" y="208.60" font-family='"Liberation Serif", serif' font-size="7.6" text-anchor="start" fill="#6e6e6e" textLength="109.5" lengthAdjust="spacingAndGlyphs">MadGraph/OpenLoops/ColorFull</text><line x1="232.20" y1="35.70" x2="259.20" y2="35.70" stroke="#000" stroke-width="1.2"/><circle cx="246" cy="35.70" r="2.0" fill="#000"/><text x="266.60" y="39.30" font-family='"Liberation Serif", serif' font-size="11.9" text-anchor="start" fill="#000" textLength="65.4" lengthAdjust="spacingAndGlyphs">ATLAS Data</text><g><clipPath id="h320"><rect x="232.20" y="47.20" width="27.00" height="7.00"/></clipPath><path d="M217.10,47.20 L224.11,54.20 M225.20,47.20 L232.21,54.20 M233.30,47.20 L240.31,54.20 M241.40,47.20 L248.41,54.20 M249.50,47.20 L256.51,54.20 M257.60,47.20 L264.61,54.20 M265.70,47.20 L272.71,54.20 " stroke="#ff00ff" stroke-width="1.5" stroke-opacity="1.0" clip-path="url(#h320)"/></g><line x1="232.20" y1="50.80" x2="259.20" y2="50.80" stroke="#ff00ff" stroke-width="1.3"/><text x="266.60" y="54.40" font-family='"Liberation Serif", serif' font-size="11.9" text-anchor="start" fill="#000" textLength="21.4" lengthAdjust="spacingAndGlyphs">Z(<tspan font-size="10.6">0</tspan>)</text><rect x="232.20" y="62.60" width="27.00" height="6.60" fill="#d4d4f4"/><line x1="232.20" y1="66.30" x2="259.20" y2="66.30" stroke="#2f55ee" stroke-width="1.4"/><text x="266.60" y="69.50" font-family='"Liberation Serif", serif' font-size="11.9" text-anchor="start" fill="#000" textLength="47.9" lengthAdjust="spacingAndGlyphs">Z(<tspan font-size="10.6">0</tspan>,<tspan font-size="10.6">1</tspan>,<tspan font-size="10.6">2</tspan>)</text><g><clipPath id="h327"><rect x="232.20" y="77.20" width="27.00" height="7.60"/></clipPath><path d="M216.30,84.80 L223.91,77.20 M224.60,84.80 L232.21,77.20 M232.90,84.80 L240.51,77.20 M241.20,84.80 L248.81,77.20 M249.50,84.80 L257.11,77.20 M257.80,84.80 L265.41,77.20 M266.10,84.80 L273.71,77.20 " stroke="#2a55f0" stroke-width="1.5" stroke-opacity="1.0" clip-path="url(#h327)"/></g><line x1="232.20" y1="81.30" x2="259.20" y2="81.30" stroke="#2a55f0" stroke-width="1.1" stroke-dasharray="2,1"/><text x="266.60" y="84.60" font-family='"Liberation Serif", serif' font-size="11.9" text-anchor="start" fill="#000" textLength="118.2" lengthAdjust="spacingAndGlyphs">Z(<tspan font-size="10.6">0</tspan>,<tspan font-size="10.6">1</tspan>,<tspan font-size="10.6">2</tspan>), <tspan font-style="italic">ρ</tspan> є [5,<tspan font-size="10.6">2</tspan><tspan font-size="10.6">0</tspan>] GeV</text><rect x="232.20" y="92.80" width="27.00" height="6.60" fill="#c8e0e0"/><line x1="232.20" y1="96.70" x2="259.20" y2="96.70" stroke="#2a8c8a" stroke-width="1.8"/><text x="266.60" y="99.70" font-family='"Liberation Serif", serif' font-size="11.9" text-anchor="start" fill="#000" textLength="47.9" lengthAdjust="spacingAndGlyphs">Z(<tspan font-size="10.6">0</tspan>*,<tspan font-size="10.6">1</tspan>*,<tspan font-size="10.6">2</tspan>)</text><rect x="232.20" y="108.20" width="27.00" height="6.00" fill="#f8b090"/><line x1="232.20" y1="111.70" x2="259.20" y2="111.70" stroke="#ee3b1c" stroke-width="1.8"/><text x="266.60" y="114.80" font-family='"Liberation Serif", serif' font-size="11.9" text-anchor="start" fill="#000" textLength="118.2" lengthAdjust="spacingAndGlyphs">Z(<tspan font-size="10.6">0</tspan>*,<tspan font-size="10.6">1</tspan>*,<tspan font-size="10.6">2</tspan>,3) <tspan font-style="italic">ρ</tspan> = <tspan font-size="10.6">1</tspan>5 GeV</text></svg></body></html>
